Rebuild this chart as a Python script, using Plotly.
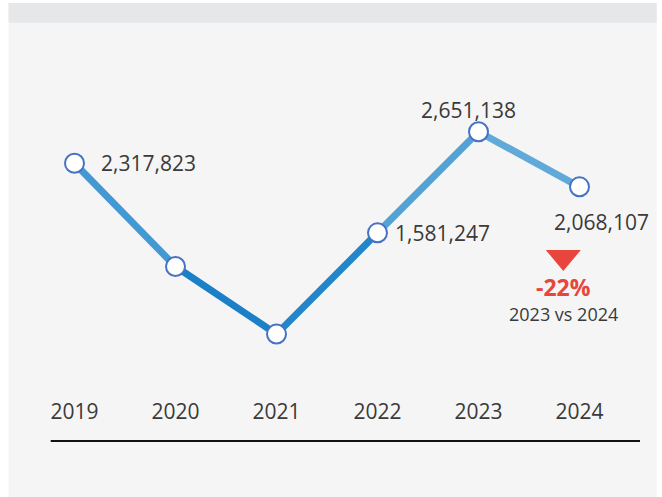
import plotly.graph_objects as go
from plotly.colors import sample_colorscale

# data
years = ["2019", "2020", "2021", "2022", "2023", "2024"]
values = [2317823, 1225000, 510000, 1581247, 2651138, 2068107]
labels = ["2,317,823", "", "", "1,581,247", "2,651,138", "2,068,107"]
change_pct = "-22%"
change_note = "2023 vs 2024"

W, H = 662, 497
L, R, T, B = 24, 32, 40, 105
PW, PH = W - L - R, H - T - B

def px_x(p):
    return (p - L) / PW

def px_y(p):
    return (H - B - p) / PH

FONT = "Open Sans"
TXT = "#3a3a3a"

fig = go.Figure()

# line segments, darker blue where the value is lower
vmin, vmax = min(values), max(values)
scale = [[0, "#0a76c4"], [1, "#6db1db"]]
for i in range(len(years) - 1):
    mid = (values[i] + values[i + 1]) / 2
    col = sample_colorscale(scale, (mid - vmin) / (vmax - vmin))[0]
    fig.add_trace(go.Scatter(
        x=[i, i + 1], y=[values[i], values[i + 1]], mode="lines",
        line=dict(color=col, width=7), hoverinfo="skip", showlegend=False))

fig.add_trace(go.Scatter(
    x=list(range(len(years))), y=values, mode="markers",
    marker=dict(size=19, color="white", line=dict(color="#4472c4", width=2)),
    hoverinfo="skip", showlegend=False))

# data labels
shifts = {0: ("left", 24, 0), 3: ("left", 15, 0), 4: ("center", -10, 22), 5: ("center", 22, -35)}
for i, t in enumerate(labels):
    if not t:
        continue
    anchor, dx, dy = shifts[i]
    fig.add_annotation(x=i, y=values[i], text=t, showarrow=False, xanchor=anchor,
                       yanchor="middle", xshift=dx, yshift=dy,
                       font=dict(family=FONT, size=21, color=TXT))

# change indicator
fig.add_shape(type="path", xref="paper", yref="paper",
              path=f"M {px_x(545.8)},{px_y(250)} L {px_x(580.8)},{px_y(250)} L {px_x(563.3)},{px_y(271)} Z",
              fillcolor="#e8463c", line=dict(width=0))
fig.add_annotation(xref="paper", yref="paper", x=px_x(563), y=px_y(287), text=f"<b>{change_pct}</b>",
                   showarrow=False, xanchor="center", yanchor="middle", borderpad=0,
                   font=dict(family=FONT, size=23, color="#e8463c"))
fig.add_annotation(xref="paper", yref="paper", x=px_x(563.5), y=px_y(314), text=change_note,
                   showarrow=False, xanchor="center", yanchor="middle", borderpad=0,
                   font=dict(family=FONT, size=18, color=TXT))

# background panel, header band and baseline
fig.add_shape(type="rect", xref="paper", yref="paper", layer="below",
              x0=px_x(8.5), x1=px_x(656.7), y0=px_y(497), y1=px_y(3),
              fillcolor="#f5f5f5", line=dict(width=0))
fig.add_shape(type="rect", xref="paper", yref="paper", layer="below",
              x0=px_x(8.5), x1=px_x(656.7), y0=px_y(22.7), y1=px_y(3),
              fillcolor="#e6e7e9", line=dict(width=0))
fig.add_shape(type="line", xref="paper", yref="paper",
              x0=px_x(50.7), x1=px_x(640), y0=px_y(441), y1=px_y(441),
              line=dict(color="#111111", width=2))

fig.update_layout(
    width=W, height=H,
    margin=dict(l=L, r=R, t=T, b=B),
    paper_bgcolor="white",
    plot_bgcolor="rgba(0,0,0,0)",
    xaxis=dict(tickmode="array", tickvals=list(range(len(years))), ticktext=years,
               range=[-0.5, 5.5], showgrid=False, zeroline=False, showline=False,
               ticks="outside", ticklen=1, tickcolor="rgba(0,0,0,0)",
               tickfont=dict(family=FONT, size=21, color=TXT), fixedrange=True),
    yaxis=dict(range=[-102600, 3621500], visible=False, fixedrange=True),
)

fig.write_html("out.html", config={"displayModeBar": False},
               post_script="document.body.style.margin='0';")
